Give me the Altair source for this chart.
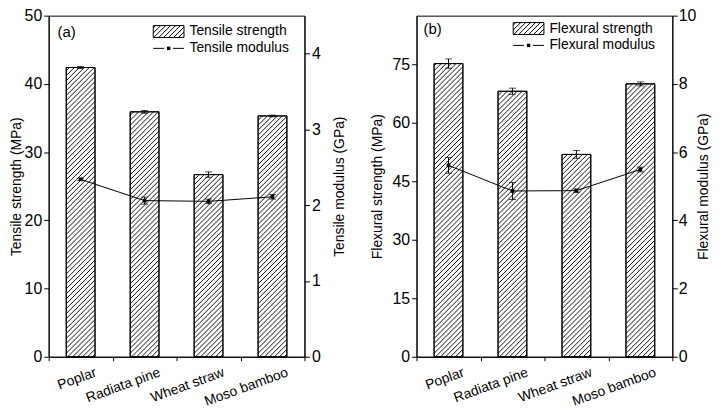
import altair as alt
import pandas as pd
import numpy as np

categories = ["Poplar", "Radiata pine", "Wheat straw", "Moso bamboo"]
tensile_strength = [42.4, 35.9, 26.7, 35.3]
tensile_strength_err = [0.15, 0.2, 0.4, 0.12]
tensile_modulus = [2.34, 2.06, 2.05, 2.11]
tensile_modulus_err = [0.015, 0.047, 0.03, 0.03]
flexural_strength = [75.2, 68.1, 51.9, 70.0]
flexural_strength_err = [1.2, 0.8, 1.0, 0.5]
flexural_modulus = [5.61, 4.86, 4.87, 5.49]
flexural_modulus_err = [0.23, 0.25, 0.05, 0.07]

W = 258
H = 344
FONT = "Liberation Sans"
BAR_HALF = 0.225
HATCH_STEP = 5.0  # px


def hatch_rows(values, ymax):
    pxX = W / 4.0
    pxY = H / ymax
    wb = 2 * BAR_HALF * pxX
    rows = []
    for i, v in enumerate(values):
        hb = v * pxY
        xl = i + 1 - BAR_HALF
        c = -wb + HATCH_STEP / 2
        while c < hb:
            u0 = max(0.0, -c)
            u1 = min(wb, hb - c)
            if u1 > u0:
                rows.append(dict(hx=xl + u0 / pxX, hy=(u0 + c) / pxY,
                                 hx2=xl + u1 / pxX, hy2=(u1 + c) / pxY))
            c += HATCH_STEP
    return pd.DataFrame(rows)


def swatch_path():
    r = 6.0
    hw = 15.5 / r
    parts = [f"M{-hw:.3f},-1H{hw:.3f}V1H{-hw:.3f}Z"]
    step = HATCH_STEP / r
    c = -hw - 2 + step / 2
    while c < hw:
        x0, y0, x1, y1 = c, 1.0, c + 2, -1.0
        if x0 < -hw:
            y0 = 1 - (-hw - x0)
            x0 = -hw
        if x1 > hw:
            y1 = -1 + (x1 - hw)
            x1 = hw
        if x1 > x0:
            parts.append(f"M{x0:.3f},{y0:.3f}L{x1:.3f},{y1:.3f}")
        c += step
    return "".join(parts)


LINE_SYM = "M-2.583,0H-0.75M0.75,0H2.583"


def ticks(maxv, step):
    n = int(round(maxv / step))
    return [round(k * step, 4) for k in range(n + 1)]


def panel(strength, serr, modulus, merr, lmax, lmajor, lminor, rmax, rmajor, rminor,
          ltitle, rtitle, leg1, leg2, plabel, ltp, rtp, rlp, legx, legy, plx, ply):
    df = pd.DataFrame({
        "idx": list(range(1, len(categories) + 1)),
        "cat": categories,
        "s": strength, "se": serr, "m": modulus, "me": merr,
    })
    base = alt.Chart(df).transform_calculate(
        xl=f"datum.idx - {BAR_HALF}", xr=f"datum.idx + {BAR_HALF}", zero="0",
        slo="datum.s - datum.se", shi="datum.s + datum.se",
        mlo="datum.m - datum.me", mhi="datum.m + datum.me",
    )
    xsc = alt.Scale(domain=[0.5, 4.5], nice=False, zero=False, padding=0)
    xaxis = alt.Axis(values=ticks(4.5, 0.5)[1:], labels=False, title=None,
                     tickSize={"condition": {"test": "datum.value % 1 === 0", "value": 7}, "value": 4})
    ysc_l = alt.Scale(domain=[0, lmax], nice=False, padding=0)
    ysc_r = alt.Scale(domain=[0, rmax], nice=False, padding=0)
    laxis = alt.Axis(orient="left", values=ticks(lmax, lminor), title=ltitle, labelOverlap=False,
                     labelExpr=f"datum.value % {lmajor} === 0 ? format(datum.value, 'd') : ''",
                     tickSize={"condition": {"test": f"datum.value % {lmajor} === 0", "value": 5}, "value": 3},
                     titlePadding=ltp)
    raxis = alt.Axis(orient="right", values=ticks(rmax, rminor), title=rtitle, labelOverlap=False,
                     labelExpr=f"datum.value % {rmajor} === 0 ? format(datum.value, 'd') : ''",
                     tickSize={"condition": {"test": f"datum.value % {rmajor} === 0", "value": 5}, "value": 3},
                     titlePadding=rtp, labelPadding=rlp, titleAngle=270, titleBaseline="top")

    bars = base.mark_bar(fill="white", stroke="black", strokeWidth=1, orient="vertical").encode(
        x=alt.X("xl:Q", scale=xsc, axis=xaxis), x2="xr:Q",
        y=alt.Y("s:Q", scale=ysc_l, axis=laxis), y2="zero:Q",
    )
    hd = hatch_rows(strength, lmax)
    hatch = alt.Chart(hd).mark_rule(color="#111111", strokeWidth=1).encode(
        x=alt.X("hx:Q", scale=xsc), x2="hx2:Q", y=alt.Y("hy:Q", scale=ysc_l), y2="hy2:Q",
    )
    outline = base.mark_bar(fillOpacity=0, stroke="black", strokeWidth=1, orient="vertical").encode(
        x=alt.X("xl:Q", scale=xsc), x2="xr:Q", y=alt.Y("s:Q", scale=ysc_l), y2="zero:Q",
    )
    serr_rule = base.mark_rule(color="black", strokeWidth=1).encode(
        x=alt.X("idx:Q", scale=xsc), y=alt.Y("slo:Q", scale=ysc_l), y2="shi:Q")
    serr_cap1 = base.mark_tick(orient="horizontal", size=7, thickness=1, color="black").encode(
        x=alt.X("idx:Q", scale=xsc), y=alt.Y("shi:Q", scale=ysc_l))
    serr_cap2 = base.mark_tick(orient="horizontal", size=7, thickness=1, color="black").encode(
        x=alt.X("idx:Q", scale=xsc), y=alt.Y("slo:Q", scale=ysc_l))

    xlabels = base.mark_text(angle=340, align="right", baseline="top", fontSize=14, font=FONT,
                             color="black", xOffset=13).encode(
        x=alt.X("idx:Q", scale=xsc), y=alt.value(H + 9), text="cat:N")

    one = alt.Chart(pd.DataFrame({"t": [plabel]}))
    ptxt = one.mark_text(align="left", baseline="middle", fontSize=15, font=FONT, color="black").encode(
        text="t:N", x=alt.value(plx), y=alt.value(ply))
    sw = alt.Chart(pd.DataFrame({"t": [leg1]})).mark_point(
        shape=swatch_path(), size=144, filled=False, stroke="black", strokeWidth=1, opacity=1).encode(
        x=alt.value(legx), y=alt.value(legy))
    ls = alt.Chart(pd.DataFrame({"t": [leg2]})).mark_point(
        shape=LINE_SYM, size=144, filled=False, stroke="black", strokeWidth=1, opacity=1).encode(
        x=alt.value(legx), y=alt.value(legy + 17))
    lsq = alt.Chart(pd.DataFrame({"t": [leg2]})).mark_square(
        size=12, color="black", opacity=1).encode(x=alt.value(legx), y=alt.value(legy + 17))
    lt1 = alt.Chart(pd.DataFrame({"t": [leg1]})).mark_text(
        align="left", baseline="middle", fontSize=14, font=FONT, color="black").encode(
        text="t:N", x=alt.value(legx + 21), y=alt.value(legy))
    lt2 = alt.Chart(pd.DataFrame({"t": [leg2]})).mark_text(
        align="left", baseline="middle", fontSize=14, font=FONT, color="black").encode(
        text="t:N", x=alt.value(legx + 21), y=alt.value(legy + 17))

    left = alt.layer(bars, hatch, outline, serr_rule, serr_cap1, serr_cap2, xlabels,
                     ptxt, sw, ls, lsq, lt1, lt2)

    mline = base.mark_line(color="black", strokeWidth=1).encode(
        x=alt.X("idx:Q", scale=xsc), y=alt.Y("m:Q", scale=ysc_r, axis=raxis))
    mpts = base.mark_square(size=14, color="black", opacity=1).encode(
        x=alt.X("idx:Q", scale=xsc), y=alt.Y("m:Q", scale=ysc_r))
    merr_rule = base.mark_rule(color="black", strokeWidth=1).encode(
        x=alt.X("idx:Q", scale=xsc), y=alt.Y("mlo:Q", scale=ysc_r), y2="mhi:Q")
    mcap1 = base.mark_tick(orient="horizontal", size=7, thickness=1, color="black").encode(
        x=alt.X("idx:Q", scale=xsc), y=alt.Y("mhi:Q", scale=ysc_r))
    mcap2 = base.mark_tick(orient="horizontal", size=7, thickness=1, color="black").encode(
        x=alt.X("idx:Q", scale=xsc), y=alt.Y("mlo:Q", scale=ysc_r))
    right = alt.layer(mline, mpts, merr_rule, mcap1, mcap2)

    return alt.layer(left, right).resolve_scale(y="independent").properties(width=W, height=H)


pa = panel(tensile_strength, tensile_strength_err, tensile_modulus, tensile_modulus_err,
           50, 10, 5, 4.5, 1, 0.5,
           "Tensile strength (MPa)", "Tensile modulus (GPa)",
           "Tensile strength", "Tensile modulus", "(a)", 1, 12, 2, 121, 16, 9, 17)
pb = panel(flexural_strength, flexural_strength_err, flexural_modulus, flexural_modulus_err,
           87.5, 15, 7.5, 10, 2, 1,
           "Flexural strength (MPa)", "Flexural modulus (GPa)",
           "Flexural strength", "Flexural modulus", "(b)", 8, 1, 1, 113, 13, 7, 14)

chart = alt.hconcat(pa, pb, spacing=22).properties(
    padding={"left": 0, "top": -3, "right": 0, "bottom": 0}
).configure_view(stroke="black", strokeWidth=1).configure_axis(
    grid=False, domainColor="black", domainWidth=1, tickColor="black", tickWidth=1,
    labelColor="black", titleColor="black", labelFont=FONT, titleFont=FONT,
    labelFontSize=16, titleFontSize=14, titleFontWeight="normal", labelPadding=2,
)

chart.save("out.html", embed_options={"renderer": "svg", "actions": False})
